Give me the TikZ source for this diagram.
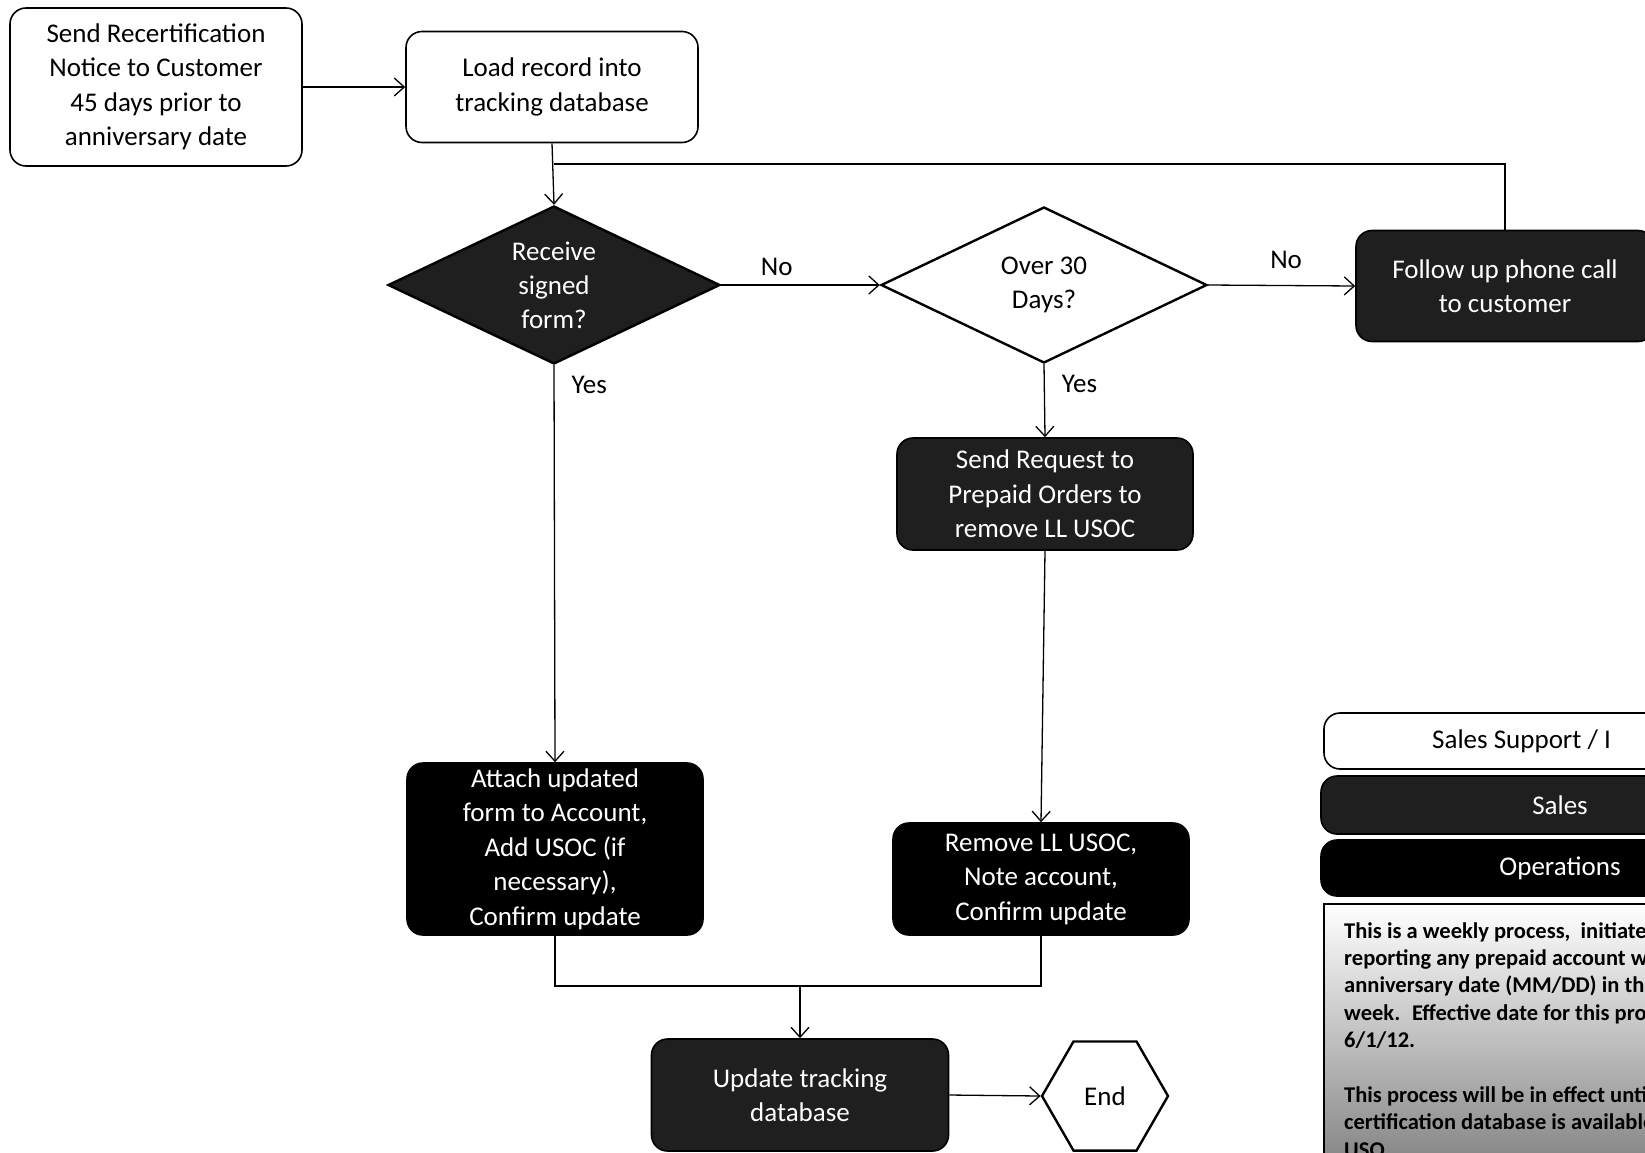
\documentclass[tikz,border=0pt]{standalone}
\usepackage{fontspec}
\setmainfont{Carlito}
\usetikzlibrary{arrows.meta,shapes.geometric}

\begin{document}
\begin{tikzpicture}[x=1pt,y=-1pt,
	box/.style={draw, line width=1.6pt, rounded corners=16pt, align=center, inner sep=0pt,
		font=\fontsize{27}{34.5}\selectfont},
	supportbox/.style={box, fill=white, text=black},
	salesbox/.style={box, fill=black!88, text=white},
	opsbox/.style={box, fill=black, text=white},
	decision/.style={diamond, draw, line width=2.4pt, align=center, inner sep=0pt, aspect=2,
		font=\fontsize{27}{34}\selectfont},
	flow/.style={line width=1.3pt, -{Straight Barb[length=10pt,width=18pt,line width=1.3pt]}},
	link/.style={line width=1.3pt},
	lbl/.style={font=\fontsize{27}{32}\selectfont, inner sep=0pt},
	notetext/.style={align=left, inner sep=0pt, font=\bfseries\fontsize{22.5}{27.4}\selectfont}
	]
	\useasboundingbox (0,0) rectangle (1645,1152);
	\clip (0,0) rectangle (1645,1152);

	% first steps
	\node[supportbox, minimum width=292pt, minimum height=158pt] (notice) at (156,87)
		{Send Recertification\\Notice to Customer\\45 days prior to\\anniversary date};
	\node[supportbox, minimum width=292pt, minimum height=111pt] (load) at (552,87)
		{Load record into\\tracking database};

	% decisions
	\node[decision, fill=black!88, text=white, minimum width=332pt, minimum height=158pt] (recv) at (554,285)
		{Receive\\signed\\form?};
	\node[decision, fill=white, minimum width=326pt, minimum height=156pt] (over) at (1044,285)
		{Over 30\\Days?};
	\node[salesbox, minimum width=298pt, minimum height=111pt] (phone) at (1505,286)
		{Follow up phone call\\to customer};

	% actions
	\node[salesbox, minimum width=296pt, minimum height=112pt] (request) at (1045,494)
		{Send Request to\\Prepaid Orders to\\remove LL USOC};
	\node[opsbox, minimum width=296pt, minimum height=172pt] (attach) at (555,849)
		{Attach updated\\form to Account,\\Add USOC (if\\necessary),\\Confirm update};
	\node[opsbox, minimum width=296pt, minimum height=112pt] (remove) at (1041,879)
		{Remove LL USOC,\\Note account,\\Confirm update};
	\node[salesbox, minimum width=297pt, minimum height=112pt] (update) at (800,1095)
		{Update tracking\\database};
	\node[regular polygon, regular polygon sides=6, draw, line width=2.4pt, fill=white, inner sep=0pt,
		minimum size=126pt, font=\fontsize{27}{32}\selectfont] (end) at (1105,1096) {End};

	% connectors
	\coordinate (back) at (554,164);
	\coordinate (merge) at (800,986);
	\draw[flow] (notice.east) -- (load.west);
	\draw[flow] (load.south) -- (recv.north);
	\draw[link] (phone.north) |- (back);
	\draw[flow] (recv.east) -- node[lbl, above=9pt, pos=0.35] {No} (over.west);
	\draw[flow] (over.east) -- node[lbl, above=16pt, pos=0.53] {No} (phone.west);
	\draw[flow] (recv.south) -- node[lbl, right=17pt, pos=0.05] {Yes} (attach.north);
	\draw[flow] (over.south) -- node[lbl, right=17pt, pos=0.27] {Yes} (request.north);
	\draw[flow] (request.south) -- (remove.north);
	\draw[link] (attach.south) |- (merge) -| (remove.south);
	\draw[flow] (merge) -- (update.north);
	\draw[flow] (update.east) -- (end.west);

	% legend
	\node[supportbox, minimum width=472pt, minimum height=56pt] (legsupport) at (1560,741) {};
	\node[lbl, anchor=west] (legsupporttxt) at (1432,741) {Sales Support / I};
	\node[salesbox, minimum width=478pt, minimum height=58pt] (legsales) at (1560,805) {Sales};
	\node[opsbox, minimum width=478pt, minimum height=56pt] (legops) at (1560,868) {Operations};
	\shade[draw, line width=1.6pt, top color=white, bottom color=black!50] (1324,904) rectangle (1720,1175);
	\node[notetext, anchor=north west] (note) at (1344,922)
		{This is a weekly process,~ initiated\\
		reporting any prepaid account with\\
		anniversary date (MM/DD) in the\\
		week.~ Effective date for this process\\
		6/1/12.\\[27.4pt]
		This process will be in effect until\\
		certification database is available\\
		USO};
\end{tikzpicture}
\end{document}
